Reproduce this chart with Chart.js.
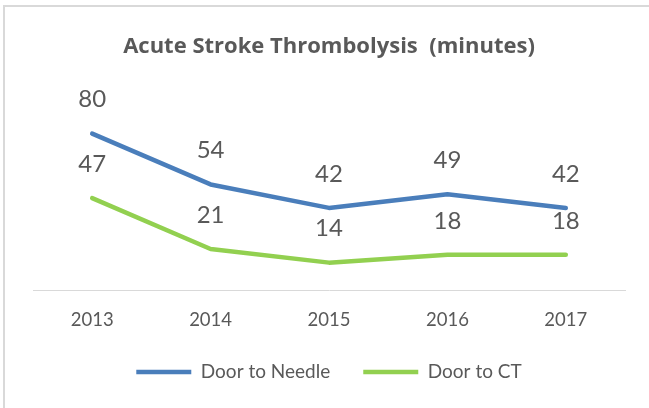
<!DOCTYPE html>
<html>
<head>
<meta charset="utf-8">
<script src="https://cdn.jsdelivr.net/npm/chart.js@4/dist/chart.umd.min.js"></script>
<style>
  html, body { margin: 0; padding: 0; background: #fff; }
  #wrap { position: relative; width: 649px; height: 408px; overflow: hidden; }
  #frame { position: absolute; left: 3px; top: 5px; width: 700px; height: 500px;
           border-left: 2px solid #d9d9d9; border-top: 2px solid #d9d9d9; }
  canvas { position: absolute; left: 0; top: 0; }
</style>
</head>
<body>
<div id="wrap">
  <div id="frame"></div>
  <canvas id="c" width="649" height="408"></canvas>
</div>
<script>
const categories = ["2013", "2014", "2015", "2016", "2017"];
const doorToNeedle = [80, 54, 42, 49, 42];
const doorToCT = [47, 21, 14, 18, 18];
const seriesNames = ["Door to Needle", "Door to CT"];
const chartTitle = "Acute Stroke Thrombolysis  (minutes)";

const FONT = "Lato, 'Open Sans', sans-serif";
const TITLE_FONT = "'Open Sans', Lato, sans-serif";
const TEXT = "#595959";

const dataLabels = {
  id: 'dataLabels',
  afterDatasetsDraw(chart) {
    const ctx = chart.ctx;
    ctx.save();
    ctx.font = "24px " + FONT;
    ctx.fillStyle = TEXT;
    ctx.textAlign = 'center';
    ctx.textBaseline = 'middle';
    chart.data.datasets.forEach((ds, i) => {
      const meta = chart.getDatasetMeta(i);
      meta.data.forEach((pt, j) => {
        ctx.fillText(String(ds.data[j]), pt.x, pt.y - 34);
      });
    });
    ctx.restore();
  }
};

new Chart(document.getElementById('c'), {
  type: 'line',
  data: {
    labels: categories,
    datasets: [
      { label: seriesNames[0], data: doorToNeedle, borderColor: '#4a7ebb', backgroundColor: '#4a7ebb',
        borderWidth: 4.5, pointRadius: 0, borderCapStyle: 'round', borderJoinStyle: 'round', tension: 0 },
      { label: seriesNames[1], data: doorToCT, borderColor: '#92d050', backgroundColor: '#92d050',
        borderWidth: 4.5, pointRadius: 0, borderCapStyle: 'round', borderJoinStyle: 'round', tension: 0 }
    ]
  },
  options: {
    responsive: false,
    animation: false,
    devicePixelRatio: 1,
    layout: { padding: { left: 33, right: 24, top: 25, bottom: 16.5 } },
    plugins: {
      title: { display: true, text: chartTitle, color: TEXT,
               font: { family: TITLE_FONT, size: 22, weight: 'bold', lineHeight: 1.2 }, padding: { top: 8.8, bottom: 34.3 } },
      legend: { position: 'bottom',
                labels: { color: TEXT, font: { family: FONT, size: 19 }, usePointStyle: true,
                          pointStyle: 'line', pointStyleWidth: 55, boxHeight: 19, padding: 33 } },
      tooltip: { enabled: false }
    },
    scales: {
      x: { offset: true, grid: { display: false, drawTicks: false },
           border: { display: true, color: '#d9d9d9', width: 1 },
           ticks: { color: TEXT, font: { family: FONT, size: 18.5, lineHeight: 1 }, padding: 20.75 },
           afterFit: (scale) => { scale.height = 39.5; } },
      y: { display: false, min: 0, max: 100 }
    }
  },
  plugins: [dataLabels]
});
</script>
</body>
</html>
